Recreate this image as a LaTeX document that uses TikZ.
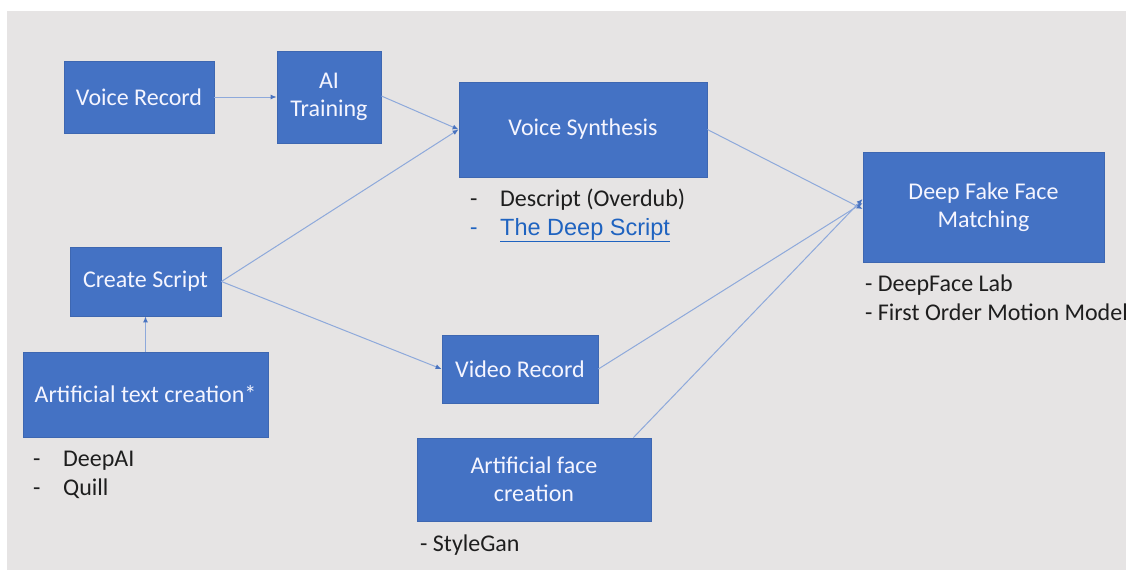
\documentclass[tikz,border=0pt]{standalone}
\usepackage{fontspec}
\setmainfont{Carlito}
\newfontfamily\linkfont{Liberation Sans}
\usetikzlibrary{arrows.meta}

\definecolor{boxblue}{HTML}{4472C4}
\definecolor{boxedge}{HTML}{3E67B1}
\definecolor{linkline}{HTML}{8EA9DB}
\definecolor{tipblue}{HTML}{4A74C0}
\definecolor{slide}{HTML}{E6E4E4}
\definecolor{linkblue}{HTML}{1F63C0}
\definecolor{inktext}{HTML}{1E1E1E}

\tikzset{
  stepbox/.style={draw=boxedge, line width=0.8pt, fill=boxblue, text=white!96!blue,
    font=\fontsize{24}{28}\selectfont, align=center, inner sep=0pt},
  flow/.style={draw=linkline, line width=1pt,
    -{Latex[length=6pt,width=5pt,fill=tipblue,color=tipblue]}},
  note/.style={font=\fontsize{24}{29}\selectfont, text=inktext, anchor=base west, inner sep=0pt},
}
% a list item whose dash sits in a fixed-width slot before the text
\newcommand{\dashitem}[2]{\makebox[#1][l]{-}#2}

\begin{document}
\begin{tikzpicture}[x=1pt, y=-1pt]
  \useasboundingbox (0,0) rectangle (1126,570);
  \fill[white] (0,0) rectangle (1126,570);
  \fill[slide] (7,11) rectangle (1126,570);

  % process boxes
  \node[stepbox, minimum width=150pt, minimum height=72pt] (vrec) at (139,97) {Voice Record};
  \node[stepbox, minimum width=104pt, minimum height=92pt] (ait) at (329,97) {AI\\Training};
  \node[stepbox, minimum width=248pt, minimum height=95pt] (vsyn) at (583,129.5) {Voice Synthesis};
  \node[stepbox, minimum width=241pt, minimum height=110pt] (dffm) at (983.5,207) {Deep Fake Face\\Matching};
  \node[stepbox, minimum width=151pt, minimum height=69pt] (cscr) at (145.5,281.5) {Create Script};
  \node[stepbox, minimum width=245pt, minimum height=85pt] (atc) at (145.5,394.5) {Artificial text creation*};
  \node[stepbox, minimum width=156pt, minimum height=68pt] (vid) at (520,369) {Video Record};
  \node[stepbox, minimum width=234pt, minimum height=83pt] (afc) at (534,479.5) {Artificial face\\creation};

  % connectors
  \coordinate (dfin1) at ([yshift=-2pt]dffm.west);
  \coordinate (dfin2) at ([yshift=4pt]dffm.west);
  \coordinate (dfin3) at ([yshift=8pt]dffm.west);
  \coordinate (afcout) at ([xshift=-18pt]afc.north east);

  \draw[flow] (vrec.east) -- (ait.west);
  \draw[flow] ([yshift=1pt]ait.east) -- (vsyn.west);
  \draw[flow] (cscr.east) -- (vsyn.west);
  \draw[flow] (cscr.east) -- (vid.west);
  \draw[flow] (atc.north) -- (cscr.south);
  \draw[flow] (vsyn.east) -- (dfin1);
  \draw[flow] (vid.east) -- (dfin2);
  \draw[flow] (afcout) -- (dfin3);

  % tool lists
  \node[note] (n1) at (470,206) {\dashitem{30pt}{Descript (Overdub)}};
  \node[note, text=linkblue] (n2) at (470,235)
    {\dashitem{30pt}{\linkfont\fontsize{23.5}{28}\selectfont\underline{The Deep Script}}};

  \node[note] (n3) at (865,291) {- DeepFace Lab};
  \node[note] (n4) at (865,320) {- First Order Motion Model};

  \node[note] (n5) at (33,466) {\dashitem{30pt}{DeepAI}};
  \node[note] (n6) at (33,495) {\dashitem{30pt}{Quill}};

  \node[note] (n7) at (420,551) {- StyleGan};
\end{tikzpicture}
\end{document}
